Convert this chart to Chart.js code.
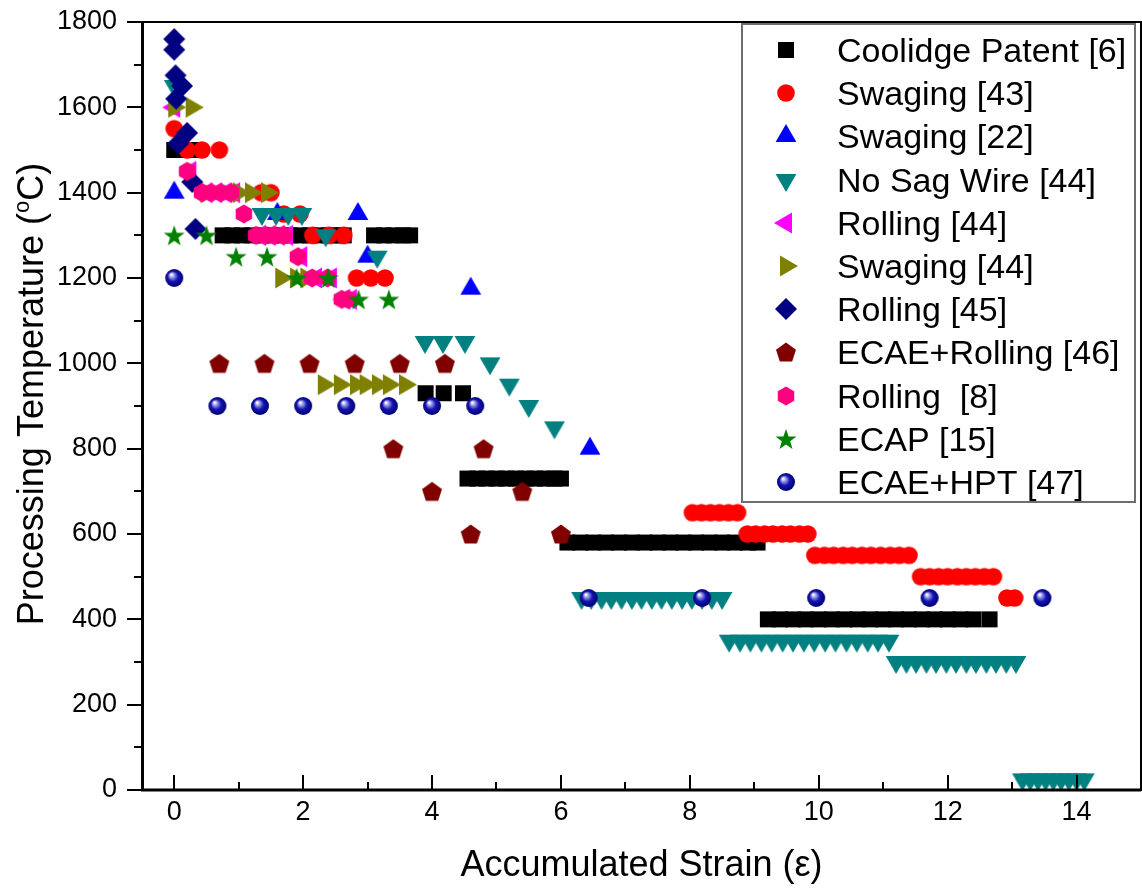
<!DOCTYPE html>
<html>
<head>
<meta charset="utf-8">
<title>Processing temperature vs accumulated strain</title>
<script src="https://cdn.jsdelivr.net/npm/chart.js@4.4.0/dist/chart.umd.min.js"></script>
<style>
  html, body { margin: 0; padding: 0; background: #fff; }
</style>
</head>
<body>
<canvas id="myChart" width="1142" height="888"></canvas>
<script>
// axis ticks
const xTickValues = [0, 2, 4, 6, 8, 10, 12, 14];
const yTickValues = [0, 200, 400, 600, 800, 1000, 1200, 1400, 1600, 1800];

const seriesNames = [
  'Coolidge Patent [6]', 'Swaging [43]', 'Swaging [22]', 'No Sag Wire [44]',
  'Rolling [44]', 'Swaging [44]', 'Rolling [45]', 'ECAE+Rolling [46]',
  'Rolling  [8]', 'ECAP [15]', 'ECAE+HPT [47]'
];

// each row: [temperature, [strain values processed at that temperature]]
const coolidgeRows = [
  [1500, [0, 0.15, 0.3]],
  [1300, [0.75, 0.9, 1.05, 1.2, 1.35, 1.5, 1.65, 1.8, 1.95, 2.1, 2.25, 2.4, 2.55, 2.63]],
  [1300, [3.1, 3.25, 3.4, 3.55, 3.66]],
  [930, [3.9, 4.18, 4.48]],
  [730, [4.55, 4.7, 4.85, 5.0, 5.15, 5.3, 5.45, 5.6, 5.75, 5.9, 6.0]],
  [580, [6.1, 6.3, 6.5, 6.7, 6.9, 7.1, 7.3, 7.5, 7.7, 7.9, 8.1, 8.3, 8.5, 8.7, 8.9, 9.05]],
  [400, [9.21, 9.4, 9.6, 9.8, 10.0, 10.2, 10.4, 10.6, 10.8, 11.0, 11.2, 11.4, 11.6, 11.8, 12.0, 12.2, 12.4, 12.65]]
];
const swaging43Rows = [
  [1550, [0]],
  [1500, [0.2, 0.43, 0.7]],
  [1400, [1.35, 1.5]],
  [1350, [1.7, 1.95]],
  [1300, [2.15, 2.4, 2.63]],
  [1200, [2.83, 3.05, 3.27]],
  [650, [8.04, 8.18, 8.32, 8.46, 8.6, 8.74]],
  [600, [8.89, 9.02, 9.16, 9.29, 9.43, 9.56, 9.7, 9.83]],
  [550, [9.94, 10.09, 10.23, 10.38, 10.52, 10.67, 10.81, 10.96, 11.11, 11.25, 11.4]],
  [500, [11.58, 11.72, 11.86, 12.0, 12.15, 12.29, 12.43, 12.57, 12.71]],
  [450, [12.92, 13.04]]
];
const swaging22Rows = [
  [1400, [0]],
  [1350, [1.6, 2.85]],
  [1250, [3.0]],
  [1175, [4.6]],
  [800, [6.45]]
];
const noSagRows = [
  [1650, [0]],
  [1350, [1.36, 1.58, 1.77, 1.98]],
  [1300, [2.35]],
  [1250, [3.15]],
  [1050, [3.89, 4.17, 4.51]],
  [1000, [4.9]],
  [950, [5.2]],
  [900, [5.5]],
  [850, [5.9]],
  [450, [6.32, 6.47, 6.63, 6.78, 6.94, 7.1, 7.25, 7.41, 7.56, 7.72, 7.88, 8.03, 8.19, 8.34, 8.5]],
  [350, [8.61, 8.78, 8.94, 9.11, 9.27, 9.44, 9.6, 9.77, 9.93, 10.1, 10.26, 10.43, 10.59, 10.76, 10.92, 11.09]],
  [300, [11.2, 11.36, 11.51, 11.67, 11.82, 11.98, 12.13, 12.29, 12.44, 12.6, 12.75, 12.91, 13.06]],
  [25, [13.16, 13.28, 13.4, 13.52, 13.64, 13.76, 13.88, 14.0, 14.12]]
];
const rolling44Rows = [
  [1600, [0]],
  [1450, [0.25]],
  [1400, [0.5, 0.65, 0.8, 0.93]],
  [1300, [1.33, 1.48, 1.62, 1.75]],
  [1250, [1.97]],
  [1200, [2.2, 2.43]],
  [1150, [2.64, 2.74]]
];
const swaging44Rows = [
  [1600, [0, 0.27]],
  [1400, [0.5, 1.0, 1.19, 1.44]],
  [1200, [1.66, 1.89, 2.05]],
  [950, [2.32, 2.57, 2.82, 2.97, 3.16, 3.33, 3.58]]
];
const rolling45Rows = [
  [1760, [0]],
  [1735, [0]],
  [1675, [0.02]],
  [1650, [0.12]],
  [1620, [0.03]],
  [1540, [0.2]],
  [1515, [0.06]],
  [1425, [0.28]],
  [1315, [0.33]]
];
const ecaeRollingRows = [
  [1000, [0.7, 1.4, 2.1, 2.8, 3.5, 4.2]],
  [800, [3.4, 4.8]],
  [700, [4.0, 5.4]],
  [600, [4.6, 6.0]]
];
const rolling8Rows = [
  [1450, [0.2]],
  [1400, [0.43, 0.58, 0.73, 0.88]],
  [1350, [1.08]],
  [1300, [1.27, 1.42, 1.56, 1.7]],
  [1250, [1.92]],
  [1200, [2.14, 2.38]],
  [1150, [2.6, 2.7]]
];
const ecapRows = [
  [1300, [0, 0.5]],
  [1250, [0.96, 1.44]],
  [1200, [1.9, 2.39]],
  [1150, [2.86, 3.33]]
];
const ecaeHptRows = [
  [1200, [0]],
  [900, [0.67, 1.33, 2.0, 2.67, 3.33, 4.0, 4.67]],
  [450, [6.43, 8.19, 9.96, 11.72, 13.47]]
];

const FONT = "'Liberation Sans', Arial, Helvetica, sans-serif";

// marker sprites, Origin-like symbols
function sprite(paint) {
  const c = document.createElement('canvas');
  c.width = 26; c.height = 26;
  const g = c.getContext('2d');
  g.translate(13, 13);
  paint(g);
  return c;
}
function ring(n, r, start) {
  const pts = [];
  for (let i = 0; i < n; i++) {
    const a = start + i * 2 * Math.PI / n;
    pts.push([r * Math.cos(a), r * Math.sin(a)]);
  }
  return pts;
}
function fillPoly(g, pts, color) {
  g.beginPath();
  pts.forEach(([x, y], i) => i ? g.lineTo(x, y) : g.moveTo(x, y));
  g.closePath();
  g.fillStyle = color;
  g.fill();
}

const markers = [
  sprite(g => { g.fillStyle = '#000000'; g.fillRect(-8, -8, 16, 16); }),
  sprite(g => { g.beginPath(); g.arc(0, 0, 8.8, 0, Math.PI * 2); g.fillStyle = '#ff0000'; g.fill(); }),
  sprite(g => fillPoly(g, ring(3, 12, -Math.PI / 2), '#0000ff')),
  sprite(g => fillPoly(g, ring(3, 12, Math.PI / 2), '#008080')),
  sprite(g => fillPoly(g, ring(3, 12, Math.PI), '#ff00ff')),
  sprite(g => fillPoly(g, ring(3, 12, 0), '#808000')),
  sprite(g => fillPoly(g, ring(4, 11, -Math.PI / 2), '#000080')),
  sprite(g => { g.translate(0, 1); fillPoly(g, ring(5, 10.5, -Math.PI / 2), '#800000'); }),
  sprite(g => fillPoly(g, ring(6, 9.5, -Math.PI / 2), '#ff0080')),
  sprite(g => {
    const outer = ring(5, 11, -Math.PI / 2), inner = ring(5, 4.4, -Math.PI / 2 + Math.PI / 5);
    const pts = [];
    outer.forEach((p, i) => { pts.push(p, inner[i]); });
    g.translate(0, 1);
    fillPoly(g, pts, '#008000');
  }),
  sprite(g => {
    const grad = g.createRadialGradient(-3, -3.5, 0.5, 0, 0, 9);
    grad.addColorStop(0, '#ffffff');
    grad.addColorStop(0.22, '#9a9ae6');
    grad.addColorStop(0.55, '#1414b4');
    grad.addColorStop(1, '#00006e');
    g.beginPath(); g.arc(0, 0, 9, 0, Math.PI * 2); g.fillStyle = grad; g.fill();
  })
];

const seriesRows = [coolidgeRows, swaging43Rows, swaging22Rows, noSagRows, rolling44Rows,
  swaging44Rows, rolling45Rows, ecaeRollingRows, rolling8Rows, ecapRows, ecaeHptRows];

function toPoints(rows) {
  const pts = [];
  rows.forEach(([temp, strains]) => strains.forEach(s => pts.push({ x: s, y: temp })));
  return pts;
}

const datasets = seriesRows.map((rows, i) => ({
  label: seriesNames[i],
  data: toPoints(rows),
  pointStyle: markers[i],
  pointRadius: 9,
  pointHoverRadius: 9,
  showLine: false,
  clip: false,
  order: -i   // later series sit on top
}));

// axis frame, inward x ticks and outward y ticks, axis titles
const frame = {
  id: 'frame',
  afterDatasetsDraw(chart) {
    const { ctx, chartArea: a, scales: { x, y } } = chart;
    ctx.save();
    ctx.strokeStyle = '#000';
    ctx.lineWidth = 2;
    ctx.strokeRect(a.left, a.top, a.right - a.left, a.bottom - a.top);
    ctx.lineWidth = 3;
    ctx.beginPath();
    ctx.moveTo(a.left + 0.5, a.top); ctx.lineTo(a.left + 0.5, a.bottom + 1.5);
    ctx.moveTo(a.left - 1, a.bottom); ctx.lineTo(a.right, a.bottom);
    ctx.stroke();

    ctx.lineWidth = 2;
    ctx.beginPath();
    xTickValues.forEach((v, i) => {
      const px = Math.round(x.getPixelForValue(v));
      ctx.moveTo(px, a.bottom); ctx.lineTo(px, a.bottom - 15);
      if (i < xTickValues.length - 1) {
        const mx = Math.round(x.getPixelForValue((v + xTickValues[i + 1]) / 2));
        ctx.moveTo(mx, a.bottom); ctx.lineTo(mx, a.bottom - 8);
      }
    });
    yTickValues.forEach((v, i) => {
      const py = Math.round(y.getPixelForValue(v));
      ctx.moveTo(a.left, py); ctx.lineTo(a.left - 15, py);
      if (i < yTickValues.length - 1) {
        const my = Math.round(y.getPixelForValue((v + yTickValues[i + 1]) / 2));
        ctx.moveTo(a.left, my); ctx.lineTo(a.left - 8, my);
      }
    });
    ctx.stroke();

    // axis titles
    ctx.fillStyle = '#000';
    ctx.textAlign = 'center';
    ctx.textBaseline = 'alphabetic';
    ctx.font = '36px ' + FONT;
    ctx.fillText('Accumulated Strain (\u03b5)', (a.left + a.right) / 2, 876);

    ctx.translate(43, 394);
    ctx.rotate(-Math.PI / 2);
    const head = 'Processing Temperature (', tail = 'C)';
    ctx.font = '36px ' + FONT;
    const wHead = ctx.measureText(head).width, wTail = ctx.measureText(tail).width;
    ctx.font = '22px ' + FONT;
    const wSup = ctx.measureText('o').width;
    let tx = -(wHead + wSup + wTail) / 2;
    ctx.textAlign = 'left';
    ctx.font = '36px ' + FONT;
    ctx.fillText(head, tx, 0); tx += wHead;
    ctx.font = '22px ' + FONT;
    ctx.fillText('o', tx, -14); tx += wSup;
    ctx.font = '36px ' + FONT;
    ctx.fillText(tail, tx, 0);
    ctx.restore();
  }
};

// boxed legend in the upper right corner
const boxLegend = {
  id: 'boxLegend',
  afterDraw(chart) {
    const ctx = chart.ctx;
    const box = { left: 742, top: 24, right: 1135, bottom: 502 };
    ctx.save();
    ctx.fillStyle = '#fff';
    ctx.fillRect(box.left, box.top, box.right - box.left, box.bottom - box.top);
    ctx.strokeStyle = '#6e6e6e';
    ctx.lineWidth = 2;
    ctx.strokeRect(box.left, box.top, box.right - box.left, box.bottom - box.top);
    ctx.font = '34px ' + FONT;
    ctx.fillStyle = '#000';
    ctx.textBaseline = 'alphabetic';
    chart.data.datasets.forEach((ds, i) => {
      const cy = 50 + i * 43.2;
      const m = ds.pointStyle;
      ctx.drawImage(m, Math.round(786 - m.width / 2), Math.round(cy - m.height / 2));
      ctx.fillText(ds.label, 837, cy + 12);
    });
    ctx.restore();
  }
};

// keep the plot box fixed: no extra room for overhanging tick labels
function noLabelPadding(s) {
  s.paddingTop = 0; s.paddingBottom = 0; s.paddingLeft = 0; s.paddingRight = 0;
}

const ctx = document.getElementById('myChart');

new Chart(ctx, {
  type: 'scatter',
  data: { datasets: datasets },
  options: {
    responsive: false,
    animation: false,
    events: [],
    layout: { autoPadding: false, padding: { top: 22, right: 1, left: 0, bottom: 0 } },
    plugins: { legend: { display: false }, tooltip: { enabled: false } },
    scales: {
      x: {
        type: 'linear',
        min: -0.5,
        max: 15,
        grid: { display: false, drawTicks: false },
        border: { display: false },
        afterBuildTicks: s => { s.ticks = xTickValues.map(v => ({ value: v })); },
        afterFit: s => { s.height = 98; noLabelPadding(s); },
        ticks: {
          color: '#000', font: { family: FONT, size: 27 }, padding: 6, maxRotation: 0, autoSkip: false,
          callback: v => String(v)
        }
      },
      y: {
        type: 'linear',
        min: 0,
        max: 1800,
        grid: { display: false, drawTicks: false },
        border: { display: false },
        afterBuildTicks: s => { s.ticks = yTickValues.map(v => ({ value: v })); },
        afterFit: s => { s.width = 142; noLabelPadding(s); },
        ticks: {
          color: '#000', font: { family: FONT, size: 27 }, padding: 25, autoSkip: false,
          callback: v => String(v)
        }
      }
    }
  },
  plugins: [frame, boxLegend]
});
</script>
</body>
</html>
